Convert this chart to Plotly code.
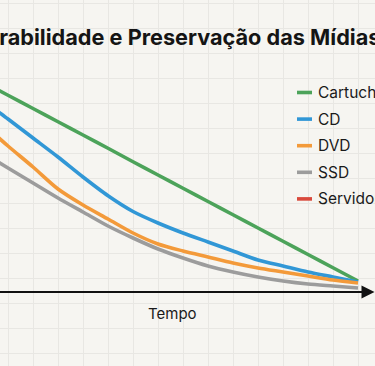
import plotly.graph_objects as go

# ---- data ----
title_text = "Durabilidade e Preservação das Mídias"
x_label = "Tempo"
series_names = ["Cartucho", "CD", "DVD", "SSD", "Servidor"]
series_colors = ["#4ca35a", "#3197d6", "#f39a3a", "#9c9c9c", "#d9493c"]

tempo = list(range(0, 17))
cartucho = [89.3, 84.0, 78.7, 73.4, 68.1, 62.8, 57.5, 52.1, 46.8, 41.5, 36.2, 30.9, 25.6, 20.3, 15.0, 9.7, 4.4]
cd = [84.8, 76.8, 69.2, 61.6, 54.0, 46.0, 38.5, 32.2, 27.6, 23.6, 20.0, 16.4, 12.8, 10.4, 8.0, 6.0, 4.0]
dvd = [75.6, 67.2, 58.4, 50.0, 41.2, 34.8, 29.2, 23.6, 19.2, 16.4, 14.0, 11.6, 9.6, 8.0, 6.4, 4.8, 3.6]
ssd = [61.6, 55.6, 49.6, 43.6, 37.6, 32.0, 26.4, 21.6, 17.2, 13.6, 10.4, 8.0, 6.0, 4.4, 3.2, 2.4, 1.6]
servidor = [None] * 17
series_values = [cartucho, cd, dvd, ssd, servidor]

W, H = 375, 366
BG = "#f6f5f1"
GRID = "#e8e7e3"

fig = go.Figure()
for name, color, vals in zip(series_names, series_colors, series_values):
    fig.add_trace(go.Scatter(
        x=tempo, y=vals, name=name, mode="lines",
        line=dict(color=color, width=3.6, shape="spline", smoothing=0.8),
        showlegend=False, hoverinfo="skip",
    ))

# axis ranges: crop of a larger chart
x0, x1 = 1.68, 1.68 + W / 25.0
y1 = (292 - 0) / 2.5
y0 = (292 - H) / 2.5

# x-axis arrow
fig.add_annotation(
    x=x1 - 0.02, y=0, ax=x0 - 0.2, ay=0, xref="x", yref="y", axref="x", ayref="y",
    showarrow=True, arrowhead=2, arrowsize=1.3, arrowwidth=2, arrowcolor="#111111",
    text="", standoff=0, startstandoff=0,
)
fig.add_annotation(
    x=(172) / 25.0 + x0, y=(292 - 313) / 2.5, xref="x", yref="y",
    text=x_label, showarrow=False, font=dict(family="Inter", size=15, color="#1a1a1a"),
)

# title (cropped on the left)
fig.add_annotation(
    x=382 / W, y=1 - 37 / H, xref="paper", yref="paper", xanchor="right", yanchor="middle",
    text="<b>" + title_text + "</b>", showarrow=False,
    font=dict(family="Inter", size=21.7, color="#151515"),
)

# manual legend
row0, row_gap = 92.5, 26.6
for i, (name, color) in enumerate(zip(series_names, series_colors)):
    py = row0 + i * row_gap
    fig.add_shape(type="line", xref="paper", yref="paper",
                  x0=297 / W, x1=312 / W, y0=1 - py / H, y1=1 - py / H,
                  line=dict(color=color, width=3.6))
    fig.add_annotation(x=316 / W, y=1 - py / H, xref="paper", yref="paper",
                       xanchor="left", yanchor="middle", text=name, showarrow=False,
                       font=dict(family="Inter", size=15.5, color="#1a1a1a"))

fig.update_layout(
    width=W, height=H,
    margin=dict(l=0, r=0, t=0, b=0),
    paper_bgcolor=BG, plot_bgcolor=BG,
    xaxis=dict(range=[x0, x1], showgrid=True, gridcolor=GRID, gridwidth=1,
               tick0=0, dtick=1, showticklabels=False, zeroline=False, showline=False, ticks=""),
    yaxis=dict(range=[y0, y1], showgrid=True, gridcolor=GRID, gridwidth=1,
               tick0=5.6, dtick=10, showticklabels=False, zeroline=False, showline=False, ticks=""),
    showlegend=False,
)

fig.write_html("out.html", config={"displayModeBar": False},
               post_script="document.body.style.margin='0';document.body.style.overflow='hidden';")
